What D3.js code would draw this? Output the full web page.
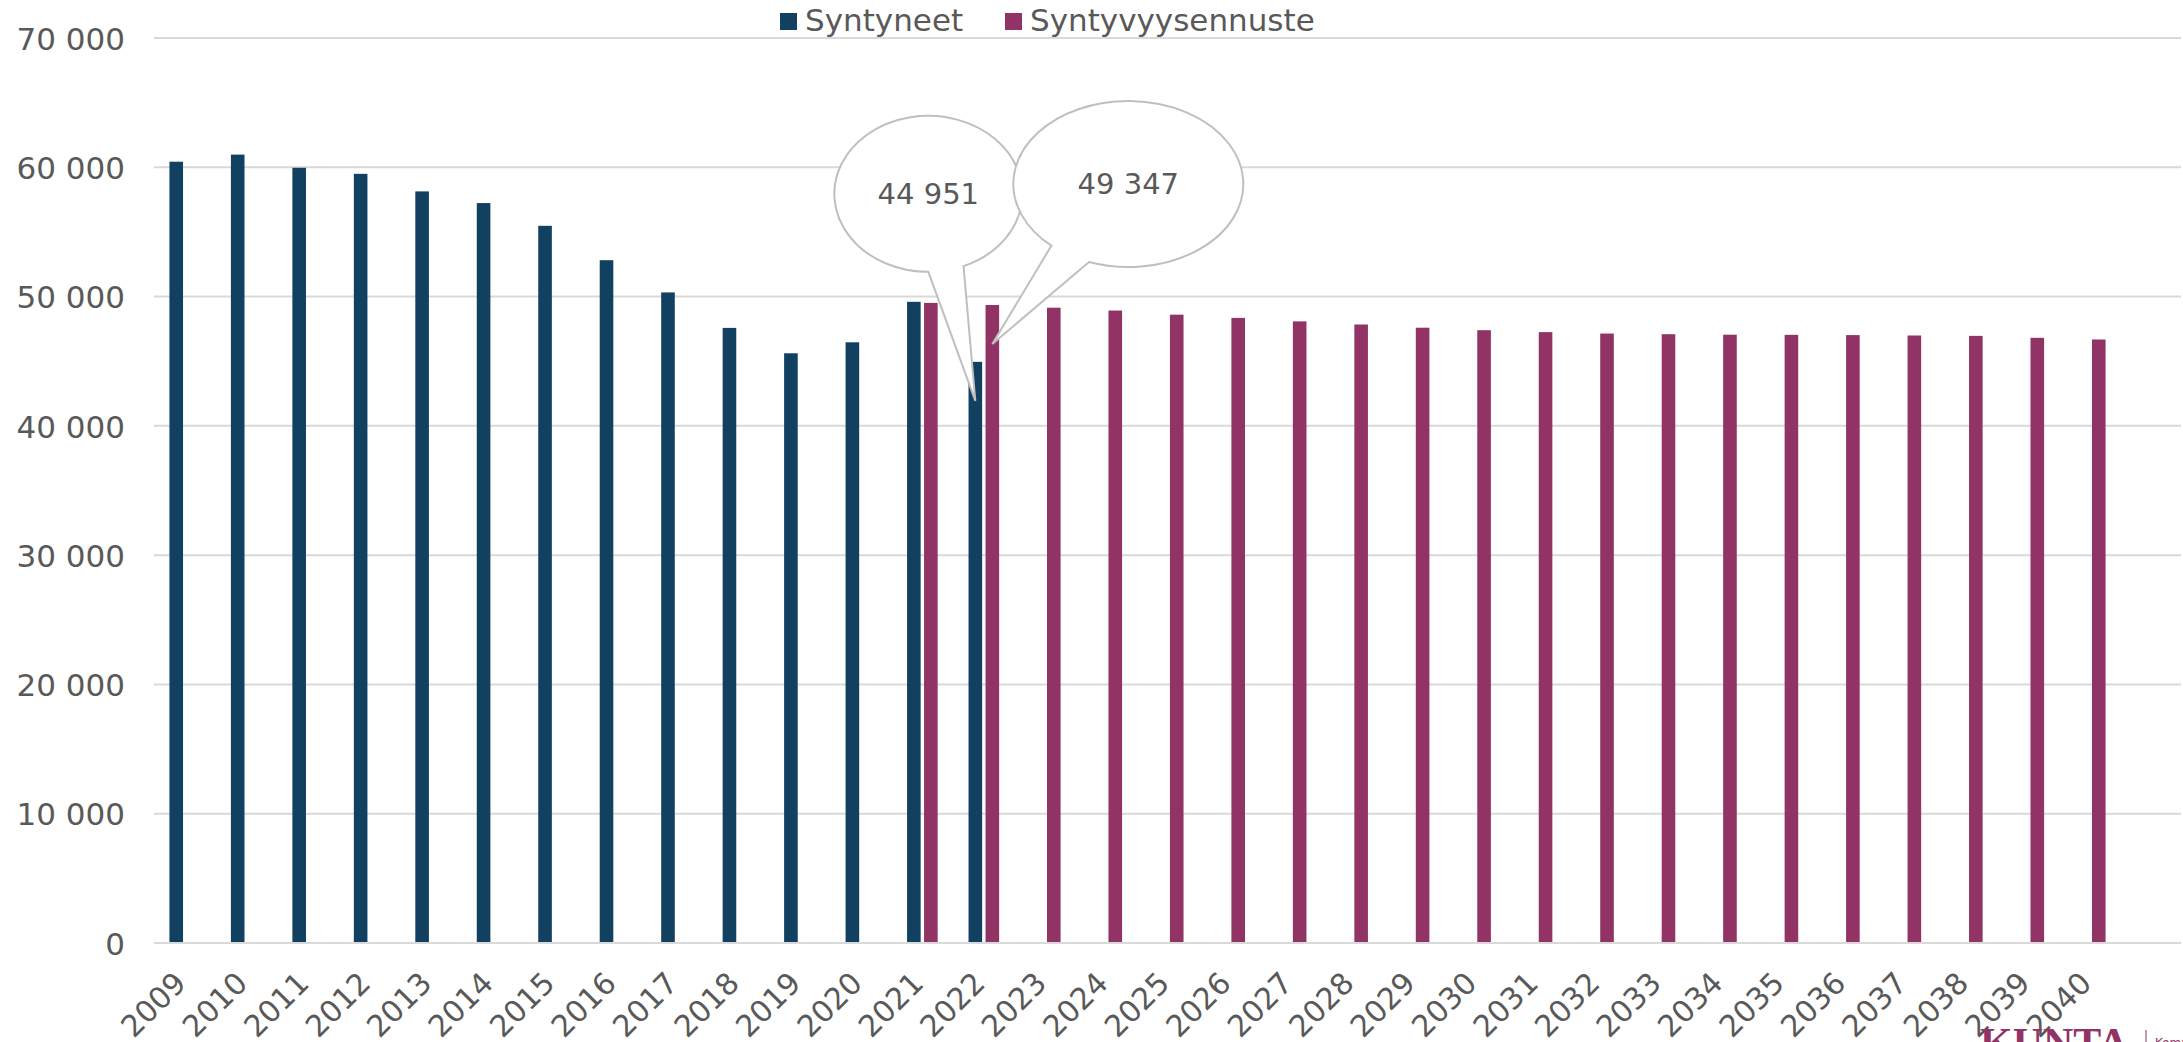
<!DOCTYPE html>
<html lang="fi">
<head>
<meta charset="utf-8">
<title>Syntyneet ja syntyvyysennuste 2009–2040</title>
<script src="https://cdn.jsdelivr.net/npm/d3@7"></script>
<style>
  html, body { margin: 0; padding: 0; background: #ffffff; }
  svg { display: block; }
  text { fill: #595959; }
</style>
</head>
<body>
<svg id="chart" width="2183" height="1042"></svg>
<script>
// Vuodet
const years = [
  2009, 2010, 2011, 2012, 2013, 2014, 2015, 2016, 2017, 2018, 2019, 2020,
  2021, 2022, 2023, 2024, 2025, 2026, 2027, 2028, 2029, 2030, 2031, 2032,
  2033, 2034, 2035, 2036, 2037, 2038, 2039, 2040
];

// Syntyneet (toteutunut)
const born = [
  60430, 60980, 59961, 59493, 58134, 57232, 55472, 52814, 50321, 47577, 45613, 46463,
  49594, 44951, null, null, null, null, null, null, null, null, null, null,
  null, null, null, null, null, null, null, null
];

// Syntyvyysennuste
const forecast = [
  null, null, null, null, null, null, null, null, null, null, null, null,
  49510, 49347, 49140, 48920, 48600, 48350, 48080, 47840, 47590, 47400, 47250, 47140,
  47090, 47050, 47040, 47020, 46990, 46960, 46810, 46680
];

const seriesNames = ["Syntyneet", "Syntyvyysennuste"];
const seriesColors = ["#124061", "#923366"];

// Arvoakselin jaot
const yTicks = [0, 10000, 20000, 30000, 40000, 50000, 60000, 70000];

// Puhekuplilla korostetut pylväät: [vuosi, sarja]
const highlighted = [[2022, 0], [2022, 1]];

const FONT = "DejaVu Sans, sans-serif";
const svg = d3.select("#chart");
const plot = { left: 154, right: 2121, gridRight: 2181, top: 38, bottom: 943 };

const fi = d3.formatLocale({ decimal: ",", thousands: "\u00a0", grouping: [3], currency: ["", " €"] });
const fmt = fi.format(",d");

const x = d3.scaleBand().domain(years).range([plot.left, plot.right]).paddingInner(0).paddingOuter(0);
const half = 15.3;
const x1 = d3.scaleBand().domain([0, 1])
  .range([x.bandwidth() / 2 - half, x.bandwidth() / 2 + half])
  .paddingInner(0.2).paddingOuter(0);
const y = d3.scaleLinear().domain([0, 70000]).range([plot.bottom, plot.top]);

// Vaakasuorat apuviivat
svg.append("g")
  .selectAll("line")
  .data(yTicks)
  .join("line")
  .attr("x1", plot.left).attr("x2", plot.gridRight)
  .attr("y1", d => y(d)).attr("y2", d => y(d))
  .attr("stroke", "#d9d9d9").attr("stroke-width", 2);

// Arvoakseli
const yAxis = svg.append("g")
  .attr("transform", `translate(${125},0)`)
  .call(d3.axisLeft(y).tickValues(yTicks).tickFormat(fmt).tickSize(0).tickPadding(0));
yAxis.select(".domain").remove();
yAxis.selectAll("text")
  .attr("font-size", 31)
  .style("font-family", FONT)
  .style("fill", "#595959")
  .attr("dy", "0.36em");

// Pylväät
const rows = years.map((yr, i) => ({ year: yr, values: [born[i], forecast[i]] }));
const groups = svg.append("g")
  .selectAll("g")
  .data(rows)
  .join("g")
  .attr("transform", d => `translate(${x(d.year)},0)`);
groups.selectAll("rect")
  .data(d => d.values.map((v, s) => ({ v, s })).filter(e => e.v != null))
  .join("rect")
  .attr("x", e => x1(e.s))
  .attr("width", x1.bandwidth())
  .attr("y", e => y(e.v))
  .attr("height", e => y(0) - y(e.v))
  .attr("fill", e => seriesColors[e.s]);

// Luokka-akseli
const xAxis = svg.append("g")
  .attr("transform", `translate(0,${plot.bottom})`)
  .call(d3.axisBottom(x).tickSize(0).tickPadding(0));
xAxis.select(".domain").remove();
svg.append("line")
  .attr("x1", plot.left).attr("x2", plot.gridRight)
  .attr("y1", plot.bottom).attr("y2", plot.bottom)
  .attr("stroke", "#d9d9d9").attr("stroke-width", 2);
xAxis.selectAll(".tick text")
  .attr("font-size", 30)
  .style("font-family", FONT)
  .style("fill", "#595959")
  .attr("text-anchor", "end")
  .attr("y", 0).attr("dy", 0)
  .attr("transform", "translate(3,42) rotate(-45)");

// Selite
const legend = svg.append("g");
const legendItems = [
  { name: seriesNames[0], color: seriesColors[0], sx: 780 },
  { name: seriesNames[1], color: seriesColors[1], sx: 1005 }
];
legendItems.forEach(it => {
  legend.append("rect").attr("x", it.sx).attr("y", 13).attr("width", 17).attr("height", 17).attr("fill", it.color);
  legend.append("text").attr("x", it.sx + 25).attr("y", 31)
    .attr("font-size", 31).style("font-family", FONT).text(it.name);
});

// Puhekuplat: ellipsi ja kärki, joka osoittaa pylvääseen
function bubblePath(cx, cy, rx, ry, tA, tB, tip) {
  const p = t => [cx + rx * Math.cos(t * Math.PI / 180), cy + ry * Math.sin(t * Math.PI / 180)];
  const a = p(tA), b = p(tB);
  return `M${a[0]},${a[1]} A${rx},${ry} 0 1 1 ${b[0]},${b[1]} L${tip[0]},${tip[1]} Z`;
}
const bubbleShapes = [
  { dx: -47, dy: -207, rx: 94, ry: 78, tA: 90, tB: 68 },
  { dx: 136, dy: -160, rx: 115, ry: 83, tA: 132, tB: 110 }
];
const bubbles = svg.append("g");
[0, 1].forEach(k => {
  const [yr, s] = highlighted[k];
  const i = years.indexOf(yr);
  const v = (s === 0 ? born : forecast)[i];
  const tip = [x(yr) + x1(s) + x1.bandwidth() / 2, y(v) + 39];
  const sh = bubbleShapes[k];
  const cx = tip[0] + sh.dx, cy = tip[1] + sh.dy;
  bubbles.append("path")
    .attr("d", bubblePath(cx, cy, sh.rx, sh.ry, sh.tA, sh.tB, tip))
    .attr("fill", "#ffffff").attr("stroke", "#bfbfbf").attr("stroke-width", 2);
  bubbles.append("text")
    .attr("x", cx).attr("y", cy).attr("dy", "0.36em")
    .attr("text-anchor", "middle").attr("font-size", 29)
    .style("font-family", FONT)
    .text(fmt(v));
});

// Tunnus alareunassa
const logo = svg.append("g");
logo.append("text")
  .attr("x", 1980).attr("y", 1057)
  .style("font-family", "Liberation Serif, serif").attr("font-weight", "bold")
  .attr("font-size", 42).style("fill", "#923366")
  .text("KUNTA");
logo.append("line")
  .attr("x1", 2146).attr("x2", 2146).attr("y1", 1030).attr("y2", 1042)
  .attr("stroke", "#923366").attr("stroke-width", 1);
logo.append("text")
  .attr("x", 2155).attr("y", 1047)
  .style("font-family", FONT)
  .attr("font-size", 12).style("fill", "#923366")
  .text("Kommunförbundet");
</script>
</body>
</html>
